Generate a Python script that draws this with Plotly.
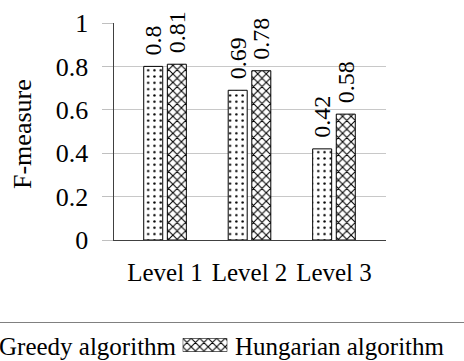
import plotly.graph_objects as go

# F-measure per hierarchy level for the two matching algorithms
levels = ["Level 1", "Level 2", "Level 3"]
greedy = [0.8, 0.69, 0.42]
hungarian = [0.81, 0.78, 0.58]
y_ticks = [0, 0.2, 0.4, 0.6, 0.8, 1]
series_names = ["Greedy algorithm", "Hungarian algorithm"]

W, H = 464, 361
FONT = "Liberation Serif"


def px_x(v):
    return v / W


def px_y(v):
    return (H - v) / H


dots = dict(shape=".", size=6.3, solidity=0.12, fgcolor="black", bgcolor="white")
cross = dict(shape="x", size=6, solidity=0.32, fgcolor="black", bgcolor="white")

fig = go.Figure()

for name, vals, pat in [(series_names[0], greedy, dots), (series_names[1], hungarian, cross)]:
    fig.add_trace(go.Bar(
        x=levels, y=vals, name=name,
        marker=dict(color="white", pattern=pat, line=dict(color="black", width=1)),
        texttemplate="\u2004%{y}", textposition="outside", textangle=-90,
        constraintext="none", cliponaxis=False,
        textfont=dict(family=FONT, size=24, color="black"),
        showlegend=False,
    ))

# legend key for the second series
fig.add_trace(go.Bar(
    x=[0], y=[1], width=[1], name=series_names[1],
    marker=dict(color="white", pattern=cross, line=dict(color="black", width=1)),
    xaxis="x2", yaxis="y2", showlegend=False, hoverinfo="skip",
))

fig.update_layout(
    template="none",
    font=dict(family=FONT, size=25, color="black"),
    width=W, height=H,
    margin=dict(l=0, r=0, t=0, b=0),
    paper_bgcolor="white", plot_bgcolor="white",
    barmode="group", bargap=0.441, bargroupgap=0.195,
    xaxis=dict(
        domain=[px_x(113.5), px_x(385.5)], range=[-0.61, 2.61],
        type="category", categoryorder="array", categoryarray=levels,
        showline=True, linecolor="#404040", linewidth=1,
        ticks="", showgrid=False, zeroline=False,
        tickfont=dict(family=FONT, size=25, color="black"),
        ticklabelstandoff=10,
    ),
    yaxis=dict(
        domain=[px_y(240), px_y(23)], range=[0, 1],
        tickvals=y_ticks, ticktext=[f"{v:g}" for v in y_ticks],
        showline=True, linecolor="#404040", linewidth=1,
        ticks="outside", ticklen=11, tickcolor="#c0c0c0", tickwidth=1,
        showgrid=True, gridcolor="#c8c8c8", gridwidth=1, zeroline=False,
        tickfont=dict(family=FONT, size=26, color="black"),
        ticklabelstandoff=8,
    ),
    xaxis2=dict(domain=[px_x(182.7), px_x(227.3)], range=[-0.5, 0.5], visible=False, fixedrange=True),
    yaxis2=dict(domain=[px_y(351.7), px_y(338.3)], range=[0, 1], visible=False, fixedrange=True),
    shapes=[dict(type="line", xref="paper", yref="paper", x0=0, x1=1,
                 y0=px_y(322.5), y1=px_y(322.5), line=dict(color="#808080", width=1.2))],
    annotations=[
        dict(text="F-measure", xref="paper", yref="paper", x=px_x(22), y=px_y(134),
             textangle=-90, showarrow=False, xanchor="center", yanchor="middle",
             font=dict(family=FONT, size=26, color="black")),
        dict(text=series_names[0], xref="paper", yref="paper", x=px_x(179), y=px_y(346),
             showarrow=False, xanchor="right", yanchor="middle",
             font=dict(family=FONT, size=25, color="black")),
        dict(text=series_names[1], xref="paper", yref="paper", x=px_x(233), y=px_y(346),
             showarrow=False, xanchor="left", yanchor="middle",
             font=dict(family=FONT, size=25, color="black")),
    ],
)

fig.write_html("out.html")
